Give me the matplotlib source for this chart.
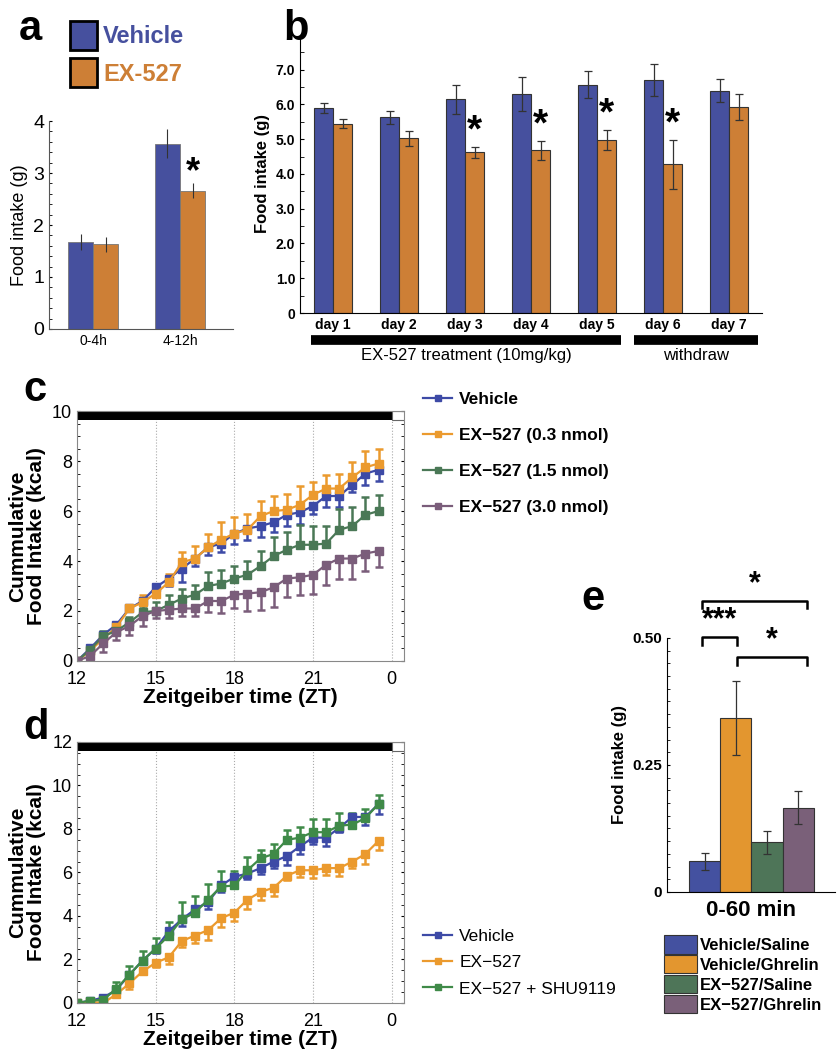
import numpy as np
import matplotlib
matplotlib.use('Agg')
import matplotlib.pyplot as plt
from matplotlib.patches import Patch, Rectangle
from matplotlib.lines import Line2D
from matplotlib.ticker import MultipleLocator, FixedLocator

plt.rcParams['font.family'] = ['Liberation Sans', 'DejaVu Sans']

# ---- panel a ----
a_groups = ['0-4h', '4-12h']
a_vehicle = [1.67, 3.56]
a_vehicle_err = [0.15, 0.28]
a_ex = [1.63, 2.66]
a_ex_err = [0.14, 0.14]

# ---- panel b ----
b_days = ['day 1', 'day 2', 'day 3', 'day 4', 'day 5', 'day 6', 'day 7']
b_vehicle = [5.90, 5.63, 6.15, 6.30, 6.57, 6.70, 6.40]
b_vehicle_err = [0.14, 0.19, 0.41, 0.50, 0.38, 0.47, 0.33]
b_ex = [5.45, 5.03, 4.62, 4.68, 4.98, 4.28, 5.92]
b_ex_err = [0.13, 0.22, 0.15, 0.27, 0.29, 0.70, 0.38]
b_star = [False, False, True, True, True, True, False]

# ---- panels c and d: time axis (ZT, every 30 min) ----
zt = [12.0, 12.5, 13.0, 13.5, 14.0, 14.5, 15.0, 15.5, 16.0, 16.5, 17.0, 17.5,
      18.0, 18.5, 19.0, 19.5, 20.0, 20.5, 21.0, 21.5, 22.0, 22.5, 23.0, 23.5]
zt_ticks = [12, 15, 18, 21, 24]
zt_labels = ['12', '15', '18', '21', '0']

c_vehicle = [0, 0.5, 1.05, 1.45, 2.1, 2.4, 2.95, 3.3, 3.7, 4.1, 4.55, 4.7,
             5.1, 5.3, 5.4, 5.55, 5.85, 5.95, 6.2, 6.6, 6.6, 7.05, 7.5, 7.65]
c_vehicle_err = [0, 0.05, 0.1, 0.1, 0.1, 0.1, 0.1, 0.3, 0.55, 0.3, 0.3, 0.35,
                 0.4, 0.45, 0.45, 0.4, 0.45, 0.45, 0.3, 0.45, 0.45, 0.3, 0.45, 0.45]
c_low = [0, 0.4, 0.9, 1.35, 2.1, 2.35, 2.7, 3.15, 3.95, 4.1, 4.55, 4.85,
         5.1, 5.25, 5.8, 6.0, 6.05, 6.25, 6.65, 6.9, 6.9, 7.35, 7.75, 7.9]
c_low_err = [0, 0.1, 0.1, 0.1, 0.15, 0.3, 0.2, 0.35, 0.4, 0.5, 0.55, 0.7,
             0.65, 0.65, 0.6, 0.6, 0.65, 0.75, 0.5, 0.55, 0.6, 0.6, 0.65, 0.6]
c_mid = [0, 0.45, 1.0, 1.2, 1.55, 1.95, 2.0, 2.25, 2.5, 2.65, 3.0, 3.1,
         3.3, 3.45, 3.8, 4.2, 4.45, 4.65, 4.65, 4.7, 5.25, 5.4, 5.85, 6.0]
c_mid_err = [0, 0.1, 0.2, 0.2, 0.2, 0.25, 0.35, 0.4, 0.4, 0.4, 0.55, 0.55,
             0.5, 0.55, 0.6, 0.75, 0.7, 0.8, 0.75, 0.7, 0.85, 0.75, 0.7, 0.65]
c_high = [0, 0.2, 0.7, 1.15, 1.4, 1.8, 2.0, 2.05, 2.1, 2.1, 2.4, 2.4,
          2.65, 2.7, 2.75, 2.95, 3.3, 3.35, 3.45, 3.85, 4.1, 4.1, 4.3, 4.4]
c_high_err = [0, 0.1, 0.35, 0.3, 0.35, 0.4, 0.3, 0.35, 0.3, 0.3, 0.45, 0.5,
              0.55, 0.7, 0.7, 0.8, 0.75, 0.7, 0.75, 0.8, 0.8, 0.8, 0.7, 0.65]
c_names = ['Vehicle', 'EX\u2212527 (0.3 nmol)', 'EX\u2212527 (1.5 nmol)', 'EX\u2212527 (3.0 nmol)']

d_vehicle = [0, 0.1, 0.25, 0.6, 1.3, 1.95, 2.5, 3.3, 3.85, 4.3, 4.65, 5.4,
             5.8, 5.95, 6.2, 6.5, 6.75, 7.2, 7.6, 7.6, 8.05, 8.55, 8.55, 9.15]
d_vehicle_err = [0, 0.05, 0.1, 0.1, 0.15, 0.15, 0.2, 0.25, 0.3, 0.3, 0.35, 0.3,
                 0.25, 0.25, 0.25, 0.3, 0.4, 0.35, 0.3, 0.4, 0.2, 0.3, 0.35, 0.45]
d_ex = [0, 0.05, 0.0, 0.4, 0.9, 1.45, 1.85, 2.1, 2.85, 3.1, 3.35, 3.9,
        4.15, 4.75, 5.1, 5.3, 5.85, 6.1, 6.1, 6.2, 6.2, 6.5, 6.85, 7.45]
d_ex_err = [0, 0.05, 0.05, 0.1, 0.25, 0.1, 0.2, 0.3, 0.3, 0.35, 0.45, 0.4,
            0.4, 0.45, 0.35, 0.4, 0.2, 0.3, 0.35, 0.3, 0.35, 0.3, 0.45, 0.4]
d_shu = [0, 0.1, 0.15, 0.65, 1.3, 1.95, 2.5, 3.1, 3.85, 4.15, 4.75, 5.35,
         5.4, 6.1, 6.65, 6.85, 7.5, 7.6, 7.85, 7.85, 8.15, 8.2, 8.5, 9.15]
d_shu_err = [0, 0.05, 0.1, 0.3, 0.4, 0.45, 0.5, 0.6, 0.8, 0.75, 0.7, 0.7,
             0.65, 0.6, 0.4, 0.45, 0.45, 0.5, 0.6, 0.6, 0.6, 0.55, 0.4, 0.4]
d_names = ['Vehicle', 'EX\u2212527', 'EX\u2212527 + SHU9119']

# ---- panel e ----
e_names = ['Vehicle/Saline', 'Vehicle/Ghrelin', 'EX\u2212527/Saline', 'EX\u2212527/Ghrelin']
e_values = [0.060, 0.343, 0.098, 0.166]
e_err = [0.017, 0.073, 0.023, 0.033]

BLUE_BAR = '#46509e'
ORANGE_BAR = '#cd7f36'
BLUE = '#3d4aa6'
ORANGE = '#eb9a2e'
GREEN = '#4a7856'
GREEN_D = '#3f8a48'
PURPLE = '#7a5d7a'
E_COLORS = ['#4451a0', '#e3962f', '#4e7558', '#7a6079']

fig = plt.figure(figsize=(8.39, 10.5), dpi=100)


def letter(x, y, s):
    fig.text(x, y, s, fontsize=30, fontweight='bold', ha='left', va='center')


# ================= a =================
ax = fig.add_axes([0.0584, 0.6867, 0.2193, 0.198])
xa = np.arange(1, len(a_groups) + 1)
w = 0.29
ax.bar(xa - w / 2, a_vehicle, w, yerr=a_vehicle_err, color=BLUE_BAR, edgecolor='#777777',
       linewidth=0.6, error_kw=dict(ecolor='#333333', elinewidth=0.8))
ax.bar(xa + w / 2, a_ex, w, yerr=a_ex_err, color=ORANGE_BAR, edgecolor='#777777',
       linewidth=0.6, error_kw=dict(ecolor='#333333', elinewidth=0.8))
ax.text(xa[1] + w / 2, a_ex[1] + a_ex_err[1] + 0.2, '*', fontsize=26, fontweight='bold',
        ha='center', va='center')
ax.set_xlim(0.49, 2.61)
ax.set_ylim(0, 4)
ax.set_xticks(xa)
ax.set_xticklabels(a_groups, fontsize=10)
ax.yaxis.set_major_locator(MultipleLocator(1))
ax.yaxis.set_minor_locator(MultipleLocator(0.2))
ax.tick_params(axis='y', which='both', direction='in', labelsize=14, length=2)
ax.tick_params(axis='x', length=0)
ax.set_ylabel('Food intake (g)', fontsize=13)
for s in ['top', 'right']:
    ax.spines[s].set_visible(False)
for s in ['left', 'bottom']:
    ax.spines[s].set_color('#555555')
letter(0.022, 0.972, 'a')

leg = fig.legend(handles=[Patch(facecolor=BLUE_BAR, edgecolor='black', linewidth=2),
                          Patch(facecolor=ORANGE_BAR, edgecolor='black', linewidth=2)],
                 labels=['Vehicle', 'EX-527'], loc='upper left', bbox_to_anchor=(0.058, 1.0),
                 frameon=False, prop=dict(size=17, weight='bold'), handlelength=1.15,
                 handleheight=1.5, handletextpad=0.25, labelspacing=0.35)
leg.get_texts()[0].set_color(BLUE_BAR)
leg.get_texts()[1].set_color(ORANGE_BAR)

# ================= b =================
ax = fig.add_axes([0.3576, 0.7019, 0.5507, 0.2648])
xb = np.arange(1, len(b_days) + 1)
w = 0.288
ax.bar(xb - w / 2, b_vehicle, w, yerr=b_vehicle_err, color=BLUE_BAR, edgecolor='#333333',
       linewidth=0.8, capsize=3, error_kw=dict(ecolor='#333333', elinewidth=0.9, capthick=0.9))
ax.bar(xb + w / 2, b_ex, w, yerr=b_ex_err, color=ORANGE_BAR, edgecolor='#333333',
       linewidth=0.8, capsize=3, error_kw=dict(ecolor='#333333', elinewidth=0.9, capthick=0.9))
for i in range(len(b_days)):
    if b_star[i]:
        ax.text(xb[i] + w / 2, b_ex[i] + b_ex_err[i] + 0.45, '*', fontsize=28,
                fontweight='bold', ha='center', va='center')
ax.set_xlim(0.5, 7.5)
ax.set_ylim(0, 8.0)
ax.set_xticks(xb)
ax.set_xticklabels(b_days, fontsize=10, fontweight='bold')
ax.set_yticks(np.arange(0, 8))
ax.set_yticklabels(['0'] + ['%.1f' % v for v in range(1, 8)], fontsize=10, fontweight='bold')
ax.yaxis.set_minor_locator(MultipleLocator(0.5))
ax.tick_params(axis='y', which='both', direction='in', length=3)
ax.tick_params(axis='x', length=0)
ax.set_ylabel('Food intake (g)', fontsize=12, fontweight='bold')
for s in ['top', 'right']:
    ax.spines[s].set_visible(False)
ax.plot([0.67, 5.36], [-0.78, -0.78], color='black', lw=7, solid_capstyle='butt', clip_on=False)
ax.plot([5.56, 7.44], [-0.78, -0.78], color='black', lw=7, solid_capstyle='butt', clip_on=False)
ax.text(3.02, -1.22, 'EX-527 treatment (10mg/kg)', fontsize=12, ha='center', va='center')
ax.text(6.5, -1.22, 'withdraw', fontsize=12, ha='center', va='center')
letter(0.338, 0.972, 'b')


# ================= c and d =================
def cumulative(ax, ymax, bar_h, series, colors, names, sides, legend_kw):
    handles = []
    for y, err, col, name, side in zip(series[0], series[1], colors, names, sides):
        err = np.array(err)
        zero = np.zeros_like(err)
        yerr = [zero, err] if side == 'up' else [err, zero]
        ax.errorbar(zt, y, yerr=yerr, color=col, marker='s', markersize=5.5, lw=1.6,
                    elinewidth=1.8, capsize=3, capthick=1.8)
        handles.append(Line2D([], [], color=col, marker='s', markersize=4, lw=1.6))
    ax.fill_between([12, 24], ymax - bar_h, ymax, color='black', lw=0)
    ax.add_patch(Rectangle((24, ymax - bar_h), 0.5, bar_h, facecolor='white',
                           edgecolor='#666666', lw=0.8))
    for t in zt_ticks[1:]:
        ax.axvline(t, color='#aaaaaa', lw=0.8, ls=':', zorder=0)
    ax.set_xlim(12, 24.47)
    ax.set_ylim(0, ymax)
    ax.xaxis.set_major_locator(FixedLocator(zt_ticks))
    ax.set_xticklabels(zt_labels, fontsize=13)
    ax.yaxis.set_major_locator(MultipleLocator(2))
    ax.yaxis.set_minor_locator(MultipleLocator(0.5))
    ax.tick_params(axis='y', which='both', direction='in', right=True, length=2, labelsize=13)
    ax.tick_params(axis='x', length=0, pad=7)
    for s in ax.spines.values():
        s.set_color('#888888')
    ax.set_xlabel('Zeitgeiber time (ZT)', fontsize=15, fontweight='bold', labelpad=0)
    ax.set_ylabel('Cummulative\nFood Intake (kcal)', fontsize=15, fontweight='bold',
                  linespacing=1.0, labelpad=4)
    ax.legend(handles, names, frameon=False, handlelength=1.7, handletextpad=0.4, **legend_kw)


ax = fig.add_axes([0.0918, 0.3705, 0.3897, 0.238])
cumulative(ax, 10, 0.35,
           ([c_vehicle, c_low, c_mid, c_high], [c_vehicle_err, c_low_err, c_mid_err, c_high_err]),
           [BLUE, ORANGE, GREEN, PURPLE], c_names, ['down', 'up', 'up', 'down'],
           dict(loc='upper left', bbox_to_anchor=(1.01, 1.14), prop=dict(size=12.5, weight='bold'),
                labelspacing=1.2))
letter(0.028, 0.629, 'c')

ax = fig.add_axes([0.0918, 0.0448, 0.3897, 0.2486])
cumulative(ax, 12, 0.42,
           ([d_vehicle, d_ex, d_shu], [d_vehicle_err, d_ex_err, d_shu_err]),
           [BLUE, ORANGE, GREEN_D], d_names, ['down', 'down', 'up'],
           dict(loc='upper left', bbox_to_anchor=(1.01, 0.345), prop=dict(size=12.5),
                labelspacing=0.65))
letter(0.028, 0.307, 'd')

# ================= e =================
ax = fig.add_axes([0.795, 0.1505, 0.2002, 0.2419])
xe = np.arange(len(e_names))
bars = ax.bar(xe, e_values, 1.0, yerr=e_err, color=E_COLORS, edgecolor='#333333', linewidth=0.8,
              capsize=3, error_kw=dict(ecolor='#333333', elinewidth=0.9, capthick=0.9))
ax.set_xlim(-1.21, 4.18)
ax.set_ylim(0, 0.5)
ax.set_yticks([0, 0.25, 0.5])
ax.set_yticklabels(['0', '0.25', '0.50'], fontsize=11, fontweight='bold')
ax.yaxis.set_minor_locator(MultipleLocator(0.025))
ax.tick_params(axis='y', which='both', direction='in', length=2)
ax.set_xticks([])
ax.set_xlabel('0-60 min', fontsize=16, fontweight='bold', labelpad=6)
ax.set_ylabel('Food intake (g)', fontsize=12, fontweight='bold')
for s in ['top', 'right']:
    ax.spines[s].set_visible(False)


def bracket(x0, x1, y, tip, stars):
    ax.plot([x0, x0, x1, x1], [y - tip, y, y, y - tip], color='black', lw=1.8, clip_on=False)
    ax.text((x0 + x1) / 2, y + 0.004, stars, fontsize=22, fontweight='bold', ha='center',
            va='bottom', clip_on=False)


bracket(-0.08, 3.27, 0.573, 0.013, '*')
bracket(-0.08, 1.05, 0.502, 0.016, '***')
bracket(1.05, 3.27, 0.462, 0.016, '*')
ax.legend(bars, e_names, loc='upper left', bbox_to_anchor=(-0.06, -0.145), frameon=False,
          prop=dict(size=12, weight='bold'), handlelength=2.0, handleheight=1.3,
          handletextpad=0.2, labelspacing=0.1, borderaxespad=0)
letter(0.693, 0.43, 'e')

fig.savefig('out.png', dpi=100)
